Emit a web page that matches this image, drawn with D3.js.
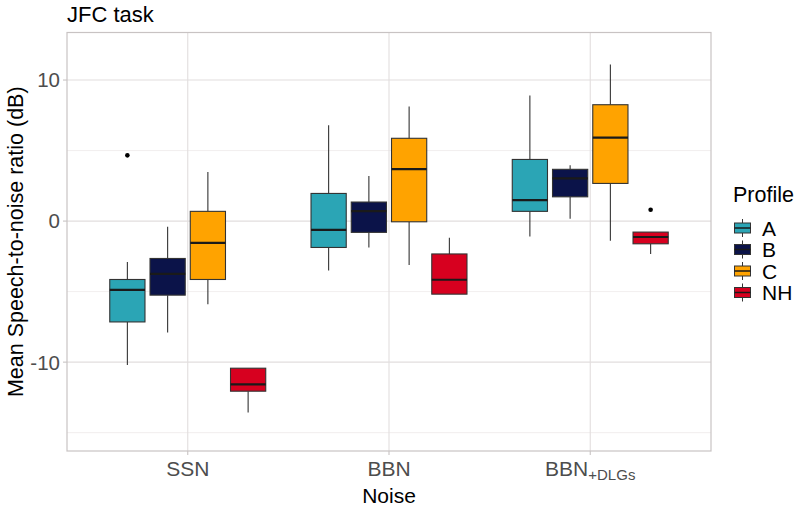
<!DOCTYPE html>
<html><head><meta charset="utf-8">
<script src="https://cdn.jsdelivr.net/npm/d3@7"></script>
<style>body{margin:0;background:#fff}svg{display:block;font-family:"Liberation Sans",Arial,sans-serif}</style>
</head><body>
<svg id="c" width="800" height="511"></svg>
<script>
const noises = ["SSN", "BBN", "BBN+DLGs"];
const profiles = ["A", "B", "C", "NH"];
const colors = ["#2BA5B5", "#0B1349", "#FFA300", "#D7001F"];
// each entry: [lower whisker, q1, median, q3, upper whisker] for SSN, BBN, BBN+DLGs
const statsA = [[-10.2, -7.15, -4.87, -4.14, -2.9], [-3.5, -1.87, -0.62, 1.96, 6.8], [-1.1, 0.69, 1.49, 4.37, 8.9]];
const statsB = [[-7.9, -5.25, -3.74, -2.65, -0.4], [-1.87, -0.8, 0.71, 1.35, 3.2], [0.16, 1.72, 3.03, 3.67, 3.95]];
const statsC = [[-5.9, -4.14, -1.54, 0.69, 3.48], [-3.12, -0.05, 3.69, 5.87, 8.13], [-1.4, 2.67, 5.91, 8.25, 11.1]];
const statsNH = [[-13.57, -12.06, -11.58, -10.43, -10.43], [-5.18, -5.18, -4.16, -2.33, -1.18], [-2.34, -1.61, -1.13, -0.78, -0.78]];
const outliers = [{noise: 0, profile: 0, value: 4.66}, {noise: 2, profile: 3, value: 0.8}];
const yTicks = [-10, 0, 10];
const yMinor = [-15, -5, 5];

const allStats = [statsA, statsB, statsC, statsNH];
const svg = d3.select("#c");
const L = 67, R = 711, T = 32.5, B = 451;
const x = d3.scaleLinear().domain([0.4, 3.6]).range([L, R]);
const y = d3.scaleLinear().domain([-16.3, 13.37]).range([B, T]);
const dodge = 0.2, bw = 0.175;

const g = svg.append("g");
g.selectAll(".minor").data(yMinor).join("line")
  .attr("x1", L).attr("x2", R).attr("y1", d => y(d)).attr("y2", d => y(d))
  .attr("stroke", "#EDEAEA").attr("stroke-width", 0.8);
g.selectAll(".major").data(yTicks).join("line")
  .attr("x1", L).attr("x2", R).attr("y1", d => y(d)).attr("y2", d => y(d))
  .attr("stroke", "#E2DEDE").attr("stroke-width", 1.1);
g.selectAll(".vmajor").data(noises).join("line")
  .attr("x1", (d, i) => x(i + 1)).attr("x2", (d, i) => x(i + 1)).attr("y1", T).attr("y2", B)
  .attr("stroke", "#E2DEDE").attr("stroke-width", 1.1);

allStats.forEach((stats, p) => {
  stats.forEach((s, n) => {
    const pos = n + 1 + (p - 1.5) * dodge;
    const cx = x(pos), x0 = x(pos - bw / 2), x1 = x(pos + bw / 2);
    const bx = g.append("g");
    bx.append("line").attr("x1", cx).attr("x2", cx).attr("y1", y(s[0])).attr("y2", y(s[1]))
      .attr("stroke", "#333").attr("stroke-width", 1.1);
    bx.append("line").attr("x1", cx).attr("x2", cx).attr("y1", y(s[3])).attr("y2", y(s[4]))
      .attr("stroke", "#333").attr("stroke-width", 1.1);
    bx.append("rect").attr("x", x0).attr("width", x1 - x0).attr("y", y(s[3])).attr("height", y(s[1]) - y(s[3]))
      .attr("fill", colors[p]).attr("stroke", "#333").attr("stroke-width", 1.1);
    bx.append("line").attr("x1", x0).attr("x2", x1).attr("y1", y(s[2])).attr("y2", y(s[2]))
      .attr("stroke", "#1a1a1a").attr("stroke-width", 2.2);
  });
});
g.selectAll(".out").data(outliers).join("circle")
  .attr("cx", d => x(d.noise + 1 + (d.profile - 1.5) * dodge)).attr("cy", d => y(d.value))
  .attr("r", 2.3).attr("fill", "#000");

svg.append("rect").attr("x", L).attr("y", T).attr("width", R - L).attr("height", B - T)
  .attr("fill", "none").attr("stroke", "#C8C3C3").attr("stroke-width", 1.2);

const ya = svg.append("g");
ya.selectAll("line").data(yTicks).join("line")
  .attr("x1", L - 4).attr("x2", L).attr("y1", d => y(d)).attr("y2", d => y(d))
  .attr("stroke", "#C8C3C3").attr("stroke-width", 1.1);
ya.selectAll("text").data(yTicks).join("text")
  .attr("x", L - 7).attr("y", d => y(d)).attr("dy", "0.36em").attr("text-anchor", "end")
  .attr("font-size", 20.5).attr("fill", "#4D4D4D").text(d => d);

const xa = svg.append("g");
xa.selectAll("line").data(noises).join("line")
  .attr("x1", (d, i) => x(i + 1)).attr("x2", (d, i) => x(i + 1)).attr("y1", B).attr("y2", B + 4)
  .attr("stroke", "#C8C3C3").attr("stroke-width", 1.1);
xa.selectAll("text").data(noises).join("text")
  .attr("x", (d, i) => x(i + 1)).attr("y", 476).attr("text-anchor", "middle")
  .attr("font-size", 21).attr("fill", "#4D4D4D")
  .each(function(d) {
    const t = d3.select(this);
    const parts = d.split("+");
    if (parts.length > 1) {
      t.append("tspan").text(parts[0]);
      t.append("tspan").attr("font-size", 15).attr("dy", 4).text("+" + parts[1]);
    } else t.text(d);
  });

svg.append("text").attr("x", (L + R) / 2).attr("y", 503).attr("text-anchor", "middle")
  .attr("font-size", 21).attr("fill", "#000").text("Noise");
svg.append("text").attr("transform", `translate(23,${(T + B) / 2}) rotate(-90)`).attr("text-anchor", "middle")
  .attr("font-size", 21.5).attr("fill", "#000").text("Mean Speech-to-noise ratio (dB)");
svg.append("text").attr("x", 67).attr("y", 22).attr("font-size", 22).attr("fill", "#000").text("JFC task");

const lg = svg.append("g");
lg.append("text").attr("x", 733).attr("y", 202).attr("font-size", 21.5).attr("fill", "#000").text("Profile");
profiles.forEach((p, i) => {
  const cy = 228 + i * 21.5;
  const kx = 742.5;
  lg.append("line").attr("x1", kx).attr("x2", kx).attr("y1", cy - 9).attr("y2", cy + 9).attr("stroke", "#333").attr("stroke-width", 1);
  lg.append("rect").attr("x", 734.5).attr("y", cy - 5).attr("width", 16).attr("height", 10)
    .attr("fill", colors[i]).attr("stroke", "#333").attr("stroke-width", 1);
  lg.append("line").attr("x1", 734.5).attr("x2", 750.5).attr("y1", cy).attr("y2", cy).attr("stroke", "#1a1a1a").attr("stroke-width", 1.5);
  lg.append("text").attr("x", 762).attr("y", cy).attr("dy", "0.36em").attr("font-size", 21).attr("fill", "#000").text(p);
});
</script>
</body></html>
